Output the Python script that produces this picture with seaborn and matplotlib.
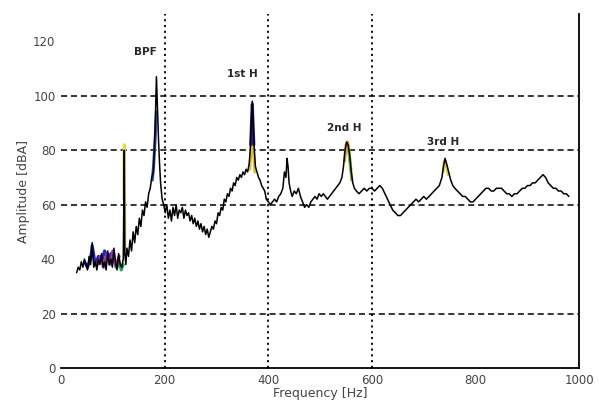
import numpy as np
import matplotlib
matplotlib.use("Agg")
import matplotlib.pyplot as plt
import seaborn as sns

# spectrum, split by region
low_f = [30, 33, 36, 39, 42, 45, 48, 51, 54, 57, 60, 63, 66, 69, 72, 75, 78, 81, 84, 87,
         90, 93, 96, 99, 102, 105, 108, 111, 114, 117, 120]
low_a = [35, 37, 36, 39, 37, 40, 38, 36, 41, 38, 46, 37, 39, 36, 40, 38, 42, 37, 39, 36,
         43, 38, 40, 37, 44, 39, 36, 42, 38, 37, 40]

bpf_f = [121, 122, 123, 125, 127, 130, 133, 136, 139, 142, 145, 148, 151, 154, 157, 160,
         163, 166, 169, 172, 175, 178, 180, 182, 184, 186, 188, 190, 192, 195, 198]
bpf_a = [60, 80, 42, 38, 44, 41, 47, 43, 50, 46, 52, 49, 55, 52, 58, 56,
         61, 59, 64, 66, 70, 72, 80, 92, 107, 95, 84, 75, 68, 62, 60]

mid_f = [201, 204, 207, 210, 213, 216, 219, 222, 225, 228, 231, 234, 237, 240, 243, 246,
         249, 252, 255, 258, 261, 264, 267, 270, 273, 276, 279, 282, 285, 288, 291, 294,
         297, 300, 303, 306, 309, 312, 315, 318, 321, 324, 327, 330, 333, 336, 339, 342,
         345, 348, 351, 354, 357, 360]
mid_a = [57, 60, 55, 58, 54, 59, 56, 60, 55, 58, 57, 59, 55, 58, 56, 57,
         54, 56, 53, 55, 52, 54, 51, 53, 50, 52, 49, 51, 48, 50, 52, 51,
         54, 53, 57, 56, 59, 58, 62, 61, 64, 63, 66, 65, 68, 67, 70, 69,
         71, 70, 72, 71, 73, 72]

h1_f = [363, 365, 367, 369, 371, 373, 375, 378, 381, 384, 387, 390, 393, 396, 400, 404,
        408, 412, 416, 420, 424, 428, 431, 434, 436, 438, 440, 443, 446, 450, 454, 458,
        462, 466, 470, 474, 478, 482, 486, 490, 494, 498, 502, 506, 510, 514, 518, 522,
        526, 530, 534, 538]
h1_a = [75, 80, 90, 98, 88, 80, 74, 72, 70, 69, 67, 66, 65, 62, 61, 60,
        61, 62, 61, 63, 64, 66, 72, 70, 77, 74, 68, 65, 63, 65, 64, 66,
        63, 61, 59, 60, 59, 61, 62, 63, 62, 64, 63, 64, 63, 62, 63, 64,
        65, 66, 67, 68]

h2_f = [542, 545, 548, 551, 554, 557, 560, 563, 566, 570, 575, 580, 585, 590, 595, 600,
        605, 610, 615, 620, 625, 630, 635, 640, 645, 650, 655, 660, 665, 670, 675, 680,
        685, 690, 695, 700, 705, 710, 715, 720, 725, 730]
h2_a = [70, 74, 80, 83, 82, 78, 72, 68, 66, 65, 64, 65, 66, 65, 66, 66,
        65, 66, 67, 66, 64, 62, 60, 58, 57, 56, 56, 57, 58, 59, 60, 61,
        62, 61, 62, 63, 62, 63, 64, 65, 66, 67]

h3_f = [735, 738, 741, 744, 748, 752, 756, 760, 765, 770, 775, 780, 785, 790, 795, 800,
        805, 810, 815, 820, 825, 830, 835, 840, 845, 850, 855, 860, 865, 870, 875, 880,
        885, 890, 895, 900, 905, 910, 915, 920, 925, 930, 935, 940, 945, 950, 955, 960,
        965, 970, 975, 980]
h3_a = [70, 74, 77, 75, 72, 69, 67, 66, 65, 64, 63, 63, 62, 61, 61, 62,
        63, 64, 65, 66, 66, 65, 65, 66, 66, 66, 65, 64, 64, 63, 64, 64,
        65, 66, 66, 67, 67, 68, 68, 69, 70, 71, 70, 68, 67, 66, 66, 65,
        65, 64, 64, 63]

# coloured traces that show from under the black one
blue_f = [45, 51, 57, 60, 66, 72, 78, 84, 90, 96, 102]
blue_a = [39, 37, 40, 45, 38, 41, 39, 43, 40, 42, 39]
purple_f = [70, 76, 82, 88, 94, 100, 106, 112]
purple_a = [38, 41, 37, 42, 38, 43, 37, 41]
green_f = [108, 112, 116, 120]
green_a = [37, 39, 36, 38]
yellow_f = [121, 122, 123]
yellow_a = [62, 82, 44]
bpf_col_f = [176, 178, 180, 182, 184]
bpf_col_a = [69, 73, 79, 86, 94]
h1_blue_f = [366, 368, 369, 370, 372]
h1_blue_a = [82, 93, 97, 92, 82]
h1_yel_f = [364, 366, 368, 372, 374]
h1_yel_a = [73, 78, 82, 78, 72]
h2_yel_f = [547, 550, 553, 556, 559]
h2_yel_a = [76, 82, 83, 79, 73]
h2_grn_f = [555, 558, 561]
h2_grn_a = [80, 75, 69]
h3_yel_f = [737, 740, 743, 747]
h3_yel_a = [72, 76, 75, 71]

labels = ["BPF", "1st H", "2nd H", "3rd H"]
label_f = [162, 350, 546, 737]
label_a = [116, 108, 88, 83]

x_ticks = [0, 200, 400, 600, 800, 1000]
y_ticks = [0, 20, 40, 60, 80, 100, 120]
h_grid = [20, 60, 80, 100]
v_grid = [200, 400, 600]

sns.set_style("white")
plt.rcParams['font.family'] = ['DejaVu Sans']

fig = plt.figure(figsize=(5.99, 4.13), dpi=100)
ax = fig.add_axes([0.102, 0.109, 0.865, 0.857])

for y in h_grid:
    ax.axhline(y, color="black", ls=(0, (4, 2.5)), lw=1.1, zorder=1)
for x in v_grid:
    ax.axvline(x, color="black", ls=(0, (1.2, 2)), lw=1.3, zorder=1)

overlays = [
    (blue_f, blue_a, "#2020d0"),
    (purple_f, purple_a, "#a030a0"),
    (green_f, green_a, "#20a060"),
    (yellow_f, yellow_a, "#e8e040"),
    (bpf_col_f, bpf_col_a, "#3050c0"),
    (h1_yel_f, h1_yel_a, "#e0c020"),
    (h1_blue_f, h1_blue_a, "#3020a0"),
    (h2_yel_f, h2_yel_a, "#e0a020"),
    (h2_grn_f, h2_grn_a, "#80c020"),
    (h3_yel_f, h3_yel_a, "#e0d040"),
]
for fx, fa, col in overlays:
    sns.lineplot(x=fx, y=fa, color=col, lw=2.2, ax=ax, zorder=2)

freq = low_f + bpf_f + mid_f + h1_f + h2_f + h3_f
amp = low_a + bpf_a + mid_a + h1_a + h2_a + h3_a
sns.lineplot(x=freq, y=amp, color="black", lw=1.1, ax=ax, zorder=3, sort=False)

for t, fx, fa in zip(labels, label_f, label_a):
    ax.text(fx, fa, t, fontsize=7.5, fontweight="bold", ha="center", va="center")

ax.set_xlim(0, 1000)
ax.set_ylim(0, 130)
ax.set_xticks(x_ticks)
ax.set_yticks(y_ticks)
ax.tick_params(length=0, labelsize=8.5, colors="#444444", pad=4)
ax.set_xlabel("Frequency [Hz]", fontsize=9, color="#444444", labelpad=0)
ax.set_ylabel("Amplitude [dBA]", fontsize=9, color="#444444", labelpad=2)

for s in ["top", "left"]:
    ax.spines[s].set_visible(False)
for s in ["bottom", "right"]:
    ax.spines[s].set_color("black")
    ax.spines[s].set_linewidth(1.3)

fig.savefig("out.png", dpi=100)
